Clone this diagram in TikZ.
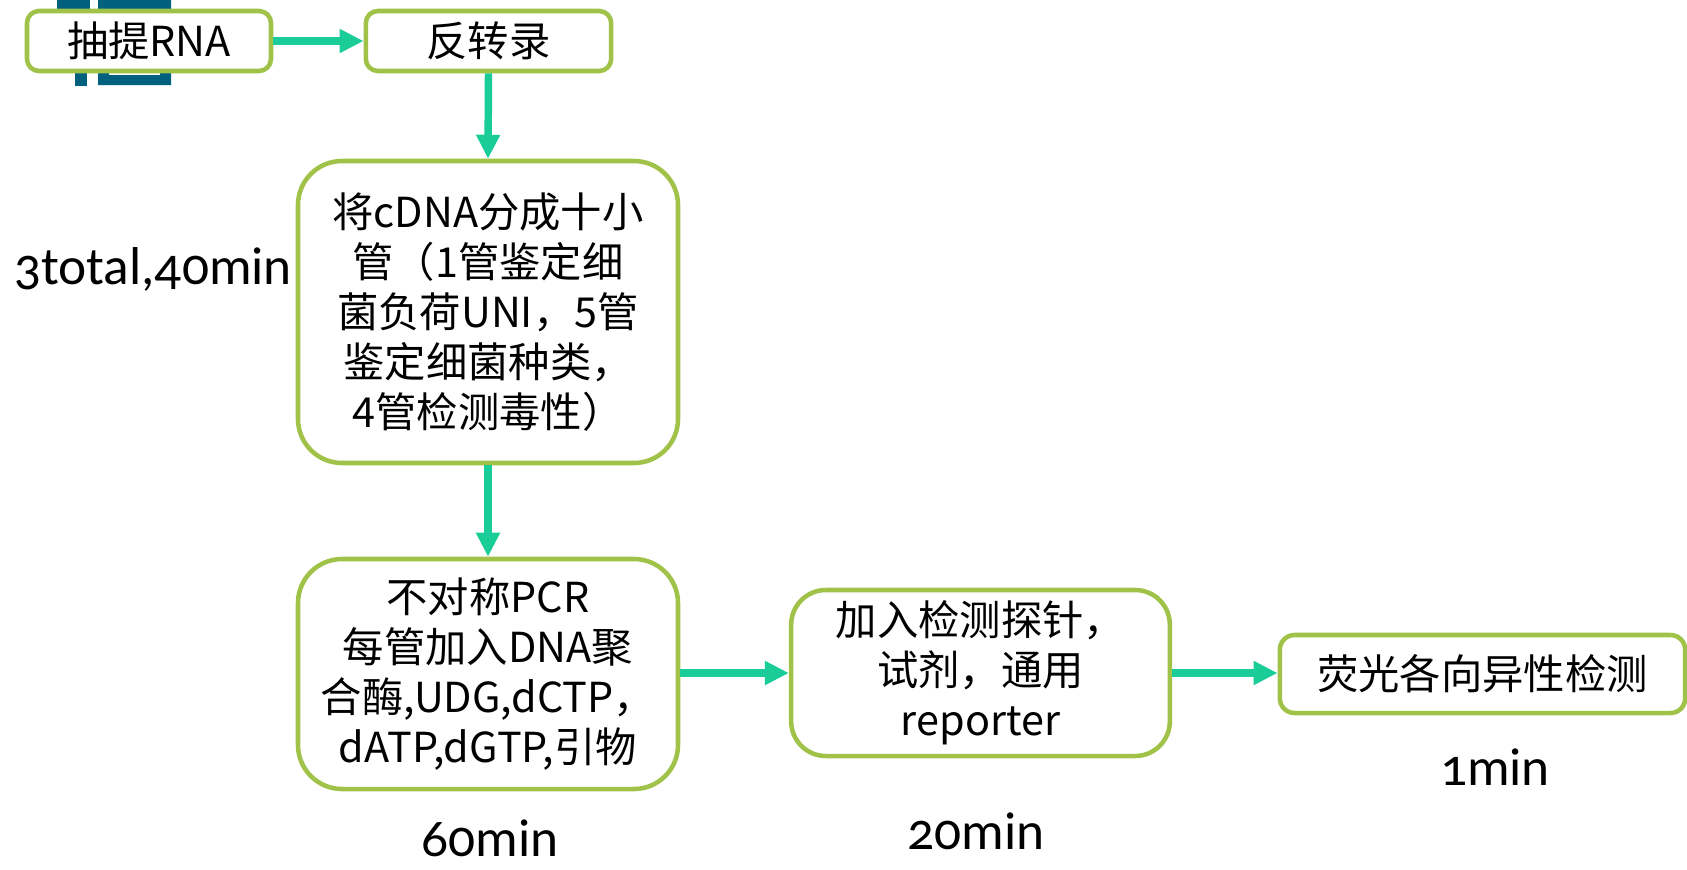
\documentclass[tikz,border=0pt]{standalone}
\usepackage{fontspec}
\setmainfont{Carlito}[Numbers=OldStyle]
\newfontfamily\cjk{Noto Sans CJK SC}
\usetikzlibrary{arrows.meta}
\definecolor{boxgreen}{RGB}{160,194,72}
\definecolor{arrowteal}{RGB}{26,204,152}
\definecolor{titleteal}{RGB}{0,97,127}
\tikzset{
  stepbox/.style={draw=boxgreen, line width=3.4pt, fill=white, inner sep=0pt,
    align=center, font=\cjk\fontsize{31}{37.5}\selectfont},
  flowarrow/.style={draw=arrowteal, line width=5.6pt,
    -{Triangle[length=18pt,width=17pt]}},
  timelabel/.style={font=\fontsize{40}{48}\selectfont, inner sep=0pt}
}
\begin{document}
\begin{tikzpicture}[x=0.75pt,y=-0.75pt]
\useasboundingbox (0,0) rectangle (1687,869);
% partial title glyph behind first box
\fill[titleteal] (57,0) rectangle (90,9);
\fill[titleteal] (75,0) rectangle (87,86);
\fill[titleteal, even odd rule] (98,-20) rectangle (171,85) (109,9) rectangle (160,75);
% boxes
\node[stepbox, rounded corners=9pt, minimum width=183pt, minimum height=45pt] (b1) at (149,41) {抽提RNA};
\node[stepbox, rounded corners=9pt, minimum width=184pt, minimum height=45pt] (b2) at (488.5,41) {反转录};
\node[stepbox, rounded corners=33pt, minimum width=285pt, minimum height=226.5pt] (b3) at (488,312)
  {将cDNA分成十小\\管（1管鉴定细\\菌负荷UNI，5管\\鉴定细菌种类，\\4管检测毒性）};
\node[stepbox, rounded corners=33pt, minimum width=285pt, minimum height=172.5pt] (b4) at (488,674)
  {不对称PCR\\每管加入DNA聚\\合酶,UDG,dCTP，\\dATP,dGTP,引物};
\node[stepbox, rounded corners=26pt, minimum width=284pt, minimum height=124.5pt] (b5) at (980.5,673)
  {加入检测探针，\\试剂，通用\\reporter};
\node[stepbox, rounded corners=11pt, minimum width=304pt, minimum height=58.5pt] (b6) at (1482.5,674)
  {荧光各向异性检测};
% connectors
\draw[flowarrow] (b1.east) -- (b2.west);
\draw[flowarrow] (b2.south) -- (b3.north);
\draw[flowarrow] (b3.south) -- (b4.north);
\draw[flowarrow] (b4.east |- b5.west) -- (b5.west);
\draw[flowarrow] (b5.east) -- (b6.west |- b5.east);
% time labels
\node[timelabel] (t1) at (153,269) {3total,40min};
\node[timelabel] (t2) at (490,838) {60min};
\node[timelabel] (t3) at (976,831) {20min};
\node[timelabel] (t4) at (1495,767) {1min};
\end{tikzpicture}
\end{document}
